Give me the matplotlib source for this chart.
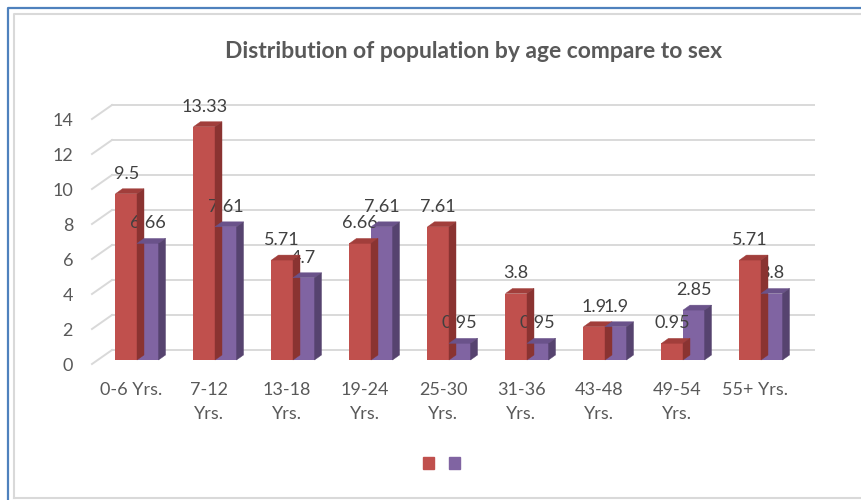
import matplotlib
matplotlib.use("Agg")
import matplotlib.pyplot as plt
from matplotlib.patches import Polygon, Patch
from matplotlib.lines import Line2D
from matplotlib.transforms import ScaledTranslation, IdentityTransform

# ---- data -------------------------------------------------------------
categories = ["0-6 Yrs.", "7-12\nYrs.", "13-18\nYrs.", "19-24\nYrs.", "25-30\nYrs.",
              "31-36\nYrs.", "43-48\nYrs.", "49-54\nYrs.", "55+ Yrs."]
male = [9.5, 13.33, 5.71, 6.66, 7.61, 3.8, 1.9, 0.95, 5.71]
female = [6.66, 7.61, 4.7, 7.61, 0.95, 0.95, 1.9, 2.85, 3.8]
y_ticks = [0, 2, 4, 6, 8, 10, 12, 14]
title = "Distribution of population by age compare to sex"

# ---- style ------------------------------------------------------------
FONT = ["Lato", "DejaVu Sans"]
RED = ("#C0504D", "#A13E3B", "#8A3331")      # front, top, side
PURPLE = ("#8064A2", "#6A528A", "#56436F")
GRID = "#D9D9D9"
TEXT = "#595959"
FS = 13
DEPTH = (7, 5)          # bar depth in pixels (right, up)
BACK = (14, 10)         # back wall offset from bar plane
FRONT = (-6, -4)        # floor front edge offset from bar plane

W, H, DPI = 861, 500, 100
fig = plt.figure(figsize=(W / DPI, H / DPI), dpi=DPI)
fig.patch.set_facecolor("white")

ax = fig.add_axes([98 / W, 140 / H, 702 / W, 245 / H])
ax.set_xlim(-0.5, len(categories) - 0.5)
ax.set_ylim(0, 14)
ax.axis("off")


def shift(dx, dy):
    """Pixel offset (dx right, dy up) added to data coordinates."""
    return ax.transData + ScaledTranslation(dx / DPI, dy / DPI, fig.dpi_scale_trans)


def to_px(x, y):
    return ax.transData.transform((x, y))


# back-wall gridlines and floor diagonals
x0, x1 = ax.get_xlim()
for t in y_ticks:
    ax.plot([x0, x1], [t, t], color=GRID, lw=1.4, transform=shift(*BACK),
            clip_on=False, zorder=0)
    px, py = to_px(x0, t)
    fig.add_artist(Line2D([px + FRONT[0], px + BACK[0]], [py + FRONT[1], py + BACK[1]],
                          transform=IdentityTransform(), color=GRID, lw=1.4, zorder=0))
    ax.text(x0, t, str(t), transform=shift(-25, -6), ha="right", va="center",
            fontsize=FS, color=TEXT, family=FONT)

# bars with simple extruded faces
bw = 0.276


def bar3d(xc, v, cols, z):
    ax.bar(xc, v, width=bw, color=cols[0], zorder=z, linewidth=0)
    (lx, by), (rx, ty) = to_px(xc - bw / 2, 0), to_px(xc + bw / 2, v)
    dx, dy = DEPTH
    top = [(lx, ty), (rx, ty), (rx + dx, ty + dy), (lx + dx, ty + dy)]
    side = [(rx, by), (rx + dx, by + dy), (rx + dx, ty + dy), (rx, ty)]
    for pts, c in ((top, cols[1]), (side, cols[2])):
        fig.add_artist(Polygon(pts, closed=True, transform=IdentityTransform(),
                               facecolor=c, edgecolor=c, lw=0.3, zorder=z))


for i, (m, f) in enumerate(zip(male, female)):
    bar3d(i - bw / 2, m, RED, 2 + 2 * i)
    bar3d(i + bw / 2, f, PURPLE, 3 + 2 * i)

for i, (m, f) in enumerate(zip(male, female)):
    for xc, v in ((i - bw / 2, m), (i + bw / 2, f)):
        ax.annotate(f"{v:g}", (xc, v), xytext=(0, 14.5), textcoords="offset points",
                    ha="center", va="center", fontsize=FS, color="#404040",
                    family=FONT, zorder=50, annotation_clip=False)
    ax.text(i, 0, categories[i], transform=shift(-6, -22), ha="center", va="top",
            fontsize=FS, color=TEXT, family=FONT, linespacing=1.65)

fig.text(474 / W, 1 - 51 / H, title, ha="center", va="center", fontsize=16.5,
         fontweight="bold", color=TEXT, family=FONT)

fig.legend(handles=[Patch(color=RED[0]), Patch(color=PURPLE[0])], labels=["", ""],
           loc="center", bbox_to_anchor=(441.5 / W, 1 - 464.5 / H), ncol=2,
           frameon=False, handlelength=0.6, handleheight=0.6, handletextpad=0,
           columnspacing=0.8, fontsize=FS)

# chart frame
fig.add_artist(Line2D([7.5 / W, 7.5 / W, 1], [0, 1 - 8 / H, 1 - 8 / H],
                      transform=fig.transFigure, color="#4F81BD", lw=1.6))
fig.add_artist(Line2D([14 / W, 14 / W, 1], [2 / H, 1 - 14 / H, 1 - 14 / H],
                      transform=fig.transFigure, color=GRID, lw=1.5))
fig.add_artist(Line2D([14 / W, 1], [2 / H, 2 / H],
                      transform=fig.transFigure, color=GRID, lw=1.5))

fig.savefig("out.png", dpi=DPI)
